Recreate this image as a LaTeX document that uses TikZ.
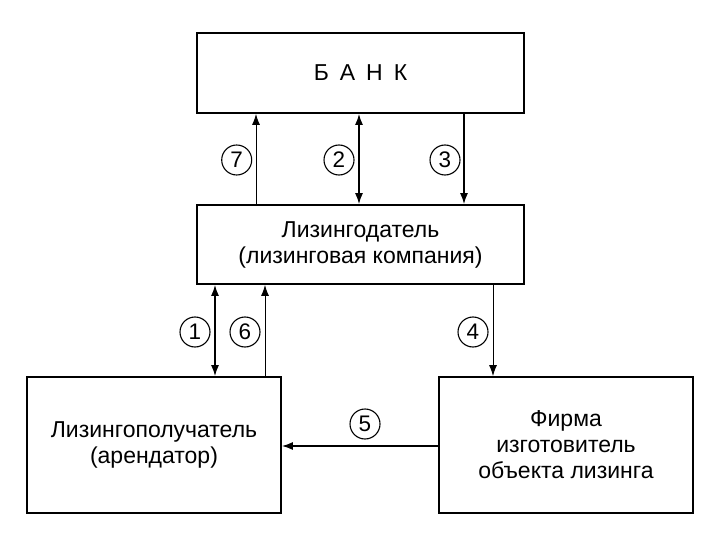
\documentclass[tikz,border=0pt]{standalone}
\usepackage{fontspec}
\setmainfont{Liberation Sans}
\usetikzlibrary{arrows.meta}
\begin{document}
\begin{tikzpicture}[x=1pt,y=1pt,
  box/.style={draw,line width=1.8pt,rectangle,inner sep=0pt,align=center,
    font=\fontsize{23}{26}\selectfont},
  num/.style={draw,circle,line width=1.1pt,minimum size=30pt,inner sep=0pt,
    font=\fontsize{22.5}{22.5}\selectfont},
  arr/.style={line width=1.4pt,-{Latex[length=11pt,width=8pt]}},
  darr/.style={line width=1.4pt,{Latex[length=11pt,width=8pt]}-{Latex[length=11pt,width=8pt]}},
  thinarr/.style={line width=0.9pt,-{Latex[length=11pt,width=8pt]}}]
\useasboundingbox (0,0) rectangle (720,-540);
\node[box,minimum width=327pt,minimum height=80pt] (bank) at (360.5,-73)
  {Б\hspace{11pt}А\hspace{11pt}Н\hspace{11pt}К};
\node[box,minimum width=327pt,minimum height=79pt] (lessor) at (360.5,-244.5)
  {Лизингодатель\\(лизинговая компания)};
\node[box,minimum width=254pt,minimum height=136pt] (lessee) at (154,-445)
  {Лизингополучатель\\(арендатор)};
\node[box,minimum width=254pt,minimum height=136pt] (firm) at (566,-445)
  {Фирма\\изготовитель\\объекта лизинга};
% upper connectors
\draw[thinarr] ([xshift=-104.5pt]lessor.north) -- ([xshift=-104.5pt]bank.south);
\draw[darr] ([xshift=-1.5pt]lessor.north) -- ([xshift=-1.5pt]bank.south);
\draw[arr] ([xshift=103.5pt]bank.south) -- ([xshift=103.5pt]lessor.north);
% lower connectors
\draw[darr] ([xshift=-145.5pt]lessor.south) -- ([xshift=61pt]lessee.north);
\draw[thinarr] ([xshift=111pt]lessee.north) -- ([xshift=-95.5pt]lessor.south);
\draw[thinarr] ([xshift=132.5pt]lessor.south) -- ([xshift=-73pt]firm.north);
\draw[arr] ([yshift=-1pt]firm.west) -- ([yshift=-1pt]lessee.east);
% numbers
\node[num] (n7) at (236.7,-160) {7};
\node[num] (n2) at (339,-160) {2};
\node[num] (n3) at (445,-160) {3};
\node[num] (n1) at (195,-332) {1};
\node[num] (n6) at (245,-332) {6};
\node[num] (n4) at (473,-332) {4};
\node[num] (n5) at (365,-424) {5};
\end{tikzpicture}
\end{document}
